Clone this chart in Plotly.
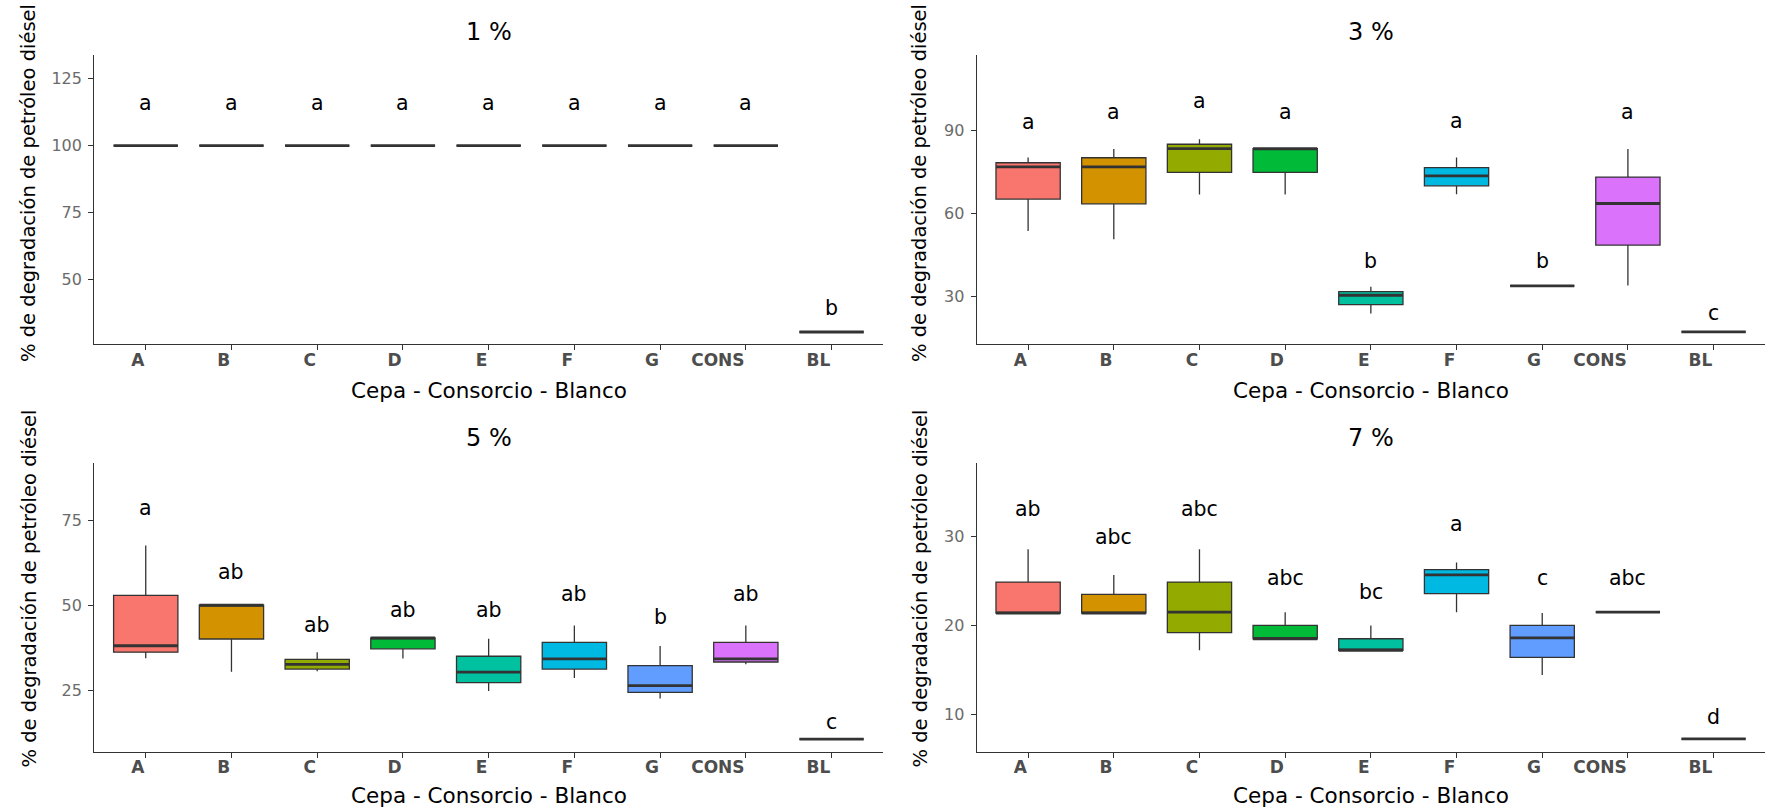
import plotly.graph_objects as go

W, H = 1765, 811

categories = ["A", "B", "C", "D", "E", "F", "G", "CONS", "BL"]
colors = ["#F8766D", "#D39200", "#93AA00", "#00BA38", "#00C19F",
          "#00B9E3", "#619CFF", "#DB72FB", "#FF61C3"]

panel_titles = ["1 %", "3 %", "5 %", "7 %"]

# ---- 1 % ----
p1_low = [100, 100, 100, 100, 100, 100, 100, 100, 30.3]
p1_q1 = [100, 100, 100, 100, 100, 100, 100, 100, 30.3]
p1_med = [100, 100, 100, 100, 100, 100, 100, 100, 30.3]
p1_q3 = [100, 100, 100, 100, 100, 100, 100, 100, 30.3]
p1_high = [100, 100, 100, 100, 100, 100, 100, 100, 30.3]
p1_letters = ["a", "a", "a", "a", "a", "a", "a", "a", "b"]
p1_letter_y = [115.8, 115.8, 115.8, 115.8, 115.8, 115.8, 115.8, 115.8, 39.2]

# ---- 3 % ----
p2_low = [53.6, 50.6, 66.9, 66.9, 23.7, 67.0, 33.7, 33.8, 17.0]
p2_q1 = [65.2, 63.5, 74.9, 74.9, 26.9, 70.0, 33.7, 48.5, 17.0]
p2_med = [76.9, 76.9, 83.5, 83.5, 30.3, 73.6, 33.7, 63.6, 17.0]
p2_q3 = [78.4, 80.2, 85.1, 83.5, 31.6, 76.6, 33.7, 73.2, 17.0]
p2_high = [80.3, 83.4, 86.9, 83.5, 33.4, 80.3, 33.7, 83.4, 17.0]
p2_letters = ["a", "a", "a", "a", "b", "a", "b", "a", "c"]
p2_letter_y = [93.3, 96.9, 100.8, 96.9, 42.7, 93.5, 42.7, 96.9, 23.7]

# ---- 5 % ----
p3_low = [34.4, 30.4, 30.6, 34.3, 24.7, 28.6, 22.5, 32.6, 10.5]
p3_q1 = [36.2, 40.1, 31.2, 37.2, 27.2, 31.2, 24.3, 33.3, 10.5]
p3_med = [38.1, 50.1, 32.6, 40.4, 30.3, 34.2, 26.3, 34.2, 10.5]
p3_q3 = [53.0, 50.1, 34.1, 40.4, 35.0, 39.1, 32.2, 39.1, 10.5]
p3_high = [67.7, 50.1, 36.2, 40.4, 40.2, 44.1, 38.0, 44.1, 10.5]
p3_letters = ["a", "ab", "ab", "ab", "ab", "ab", "b", "ab", "c"]
p3_letter_y = [78.8, 59.8, 44.2, 48.6, 48.6, 53.3, 46.5, 53.3, 15.6]

# ---- 7 % ----
p4_low = [21.4, 21.4, 17.2, 18.5, 17.2, 21.5, 14.4, 21.5, 7.2]
p4_q1 = [21.4, 21.4, 19.2, 18.5, 17.2, 23.6, 16.4, 21.5, 7.2]
p4_med = [21.4, 21.4, 21.5, 18.5, 17.2, 25.7, 18.6, 21.5, 7.2]
p4_q3 = [24.9, 23.5, 24.9, 20.0, 18.5, 26.3, 20.0, 21.5, 7.2]
p4_high = [28.6, 25.7, 28.6, 21.5, 20.0, 27.1, 21.4, 21.5, 7.2]
p4_letters = ["ab", "abc", "abc", "abc", "bc", "a", "c", "abc", "d"]
p4_letter_y = [33.1, 30.0, 33.1, 25.3, 23.8, 31.5, 25.3, 25.3, 9.7]

y_ranges = [[25.7, 133.9], [12.5, 117.5], [6.8, 92.0], [5.75, 38.3]]
y_ticks = [[50, 75, 100, 125], [30, 60, 90], [25, 50, 75], [10, 20, 30]]

panels = [
    (p1_low, p1_q1, p1_med, p1_q3, p1_high, p1_letters, p1_letter_y),
    (p2_low, p2_q1, p2_med, p2_q3, p2_high, p2_letters, p2_letter_y),
    (p3_low, p3_q1, p3_med, p3_q3, p3_high, p3_letters, p3_letter_y),
    (p4_low, p4_q1, p4_med, p4_q3, p4_high, p4_letters, p4_letter_y),
]

# panel pixel boxes (left, right, top, bottom)
boxes_px = [
    (94.3, 883.0, 55.0, 344.3),
    (976.7, 1765.0, 55.0, 344.3),
    (94.3, 883.0, 463.3, 751.7),
    (976.7, 1765.0, 463.3, 751.7),
]
title_y_px = [31.7, 31.7, 437.5, 437.5]
xtitle_y_px = [390.0, 390.0, 795.0, 795.0]
ytitle_y_px = [183.0, 183.0, 588.5, 588.5]
ytitle_x_px = [29.0, 920.0, 29.0, 920.0]

BOX_W = 0.75
LINE_C = "#333333"
FONT = "DejaVu Sans"

fig = go.Figure()
layout = {}
annotations = []
xpos = list(range(len(categories)))

for p, (low, q1, med, q3, high, letters, letter_y) in enumerate(panels):
    sfx = "" if p == 0 else str(p + 1)
    xa, ya = "x" + sfx, "y" + sfx
    for i, cat in enumerate(categories):
        fig.add_trace(go.Box(
            x=[xpos[i]], q1=[q1[i]], median=[med[i]], q3=[q3[i]],
            lowerfence=[low[i]], upperfence=[high[i]],
            width=BOX_W, whiskerwidth=0, fillcolor=colors[i],
            line=dict(color=LINE_C, width=1.3), boxpoints=False,
            xaxis=xa, yaxis=ya, showlegend=False, hoverinfo="skip", name=cat))
    # thick median lines (ggplot style)
    mx, my = [], []
    for i in xpos:
        mx += [i - BOX_W / 2, i + BOX_W / 2, None]
        my += [med[i], med[i], None]
    fig.add_trace(go.Scatter(x=mx, y=my, mode="lines",
                             line=dict(color=LINE_C, width=2.8),
                             xaxis=xa, yaxis=ya, showlegend=False, hoverinfo="skip"))
    # significance letters
    for i in xpos:
        annotations.append(dict(x=xpos[i], y=letter_y[i], xref=xa, yref=ya,
                                text=letters[i], showarrow=False,
                                font=dict(family=FONT, size=20.5, color="black"),
                                xanchor="center", yanchor="middle"))
    l, r, t, b = boxes_px[p]
    layout["xaxis" + sfx] = dict(
        domain=[l / W, r / W], anchor=ya, range=[-0.6, 8.6],
        tickmode="array", tickvals=xpos, ticktext=categories,
        showline=True, linecolor=LINE_C, linewidth=1.3,
        ticks="outside", ticklen=5, tickwidth=1.2, tickcolor=LINE_C,
        ticklabelposition="outside left",
        tickfont=dict(family=FONT, size=17, color="#4d4d4d", weight="bold"),
        showgrid=False, zeroline=False, fixedrange=True)
    layout["yaxis" + sfx] = dict(
        domain=[1 - b / H, 1 - t / H], anchor=xa, range=y_ranges[p],
        tickmode="array", tickvals=y_ticks[p],
        showline=True, linecolor=LINE_C, linewidth=1.3,
        ticks="outside", ticklen=5, tickwidth=1.2, tickcolor=LINE_C,
        ticklabelstandoff=3,
        tickfont=dict(family=FONT, size=16, color="#6b6b6b"),
        showgrid=False, zeroline=False, fixedrange=True)
    cx = (l + r) / 2
    annotations.append(dict(x=cx / W, y=1 - title_y_px[p] / H, xref="paper", yref="paper",
                            text=panel_titles[p], showarrow=False,
                            font=dict(family=FONT, size=24, color="black"),
                            xanchor="center", yanchor="middle"))
    annotations.append(dict(x=cx / W, y=1 - xtitle_y_px[p] / H, xref="paper", yref="paper",
                            text="Cepa - Consorcio - Blanco", showarrow=False,
                            font=dict(family=FONT, size=21.5, color="black"),
                            xanchor="center", yanchor="middle"))
    annotations.append(dict(x=ytitle_x_px[p] / W, y=1 - ytitle_y_px[p] / H,
                            xref="paper", yref="paper",
                            text="% de degradación de petróleo diésel", showarrow=False,
                            textangle=-90,
                            font=dict(family=FONT, size=19.5, color="black"),
                            xanchor="center", yanchor="middle"))

fig.update_layout(**layout)
fig.update_layout(
    width=W, height=H, margin=dict(l=0, r=0, t=0, b=0),
    paper_bgcolor="white", plot_bgcolor="white",
    boxmode="overlay", showlegend=False, annotations=annotations)

fig.write_html("out.html")
